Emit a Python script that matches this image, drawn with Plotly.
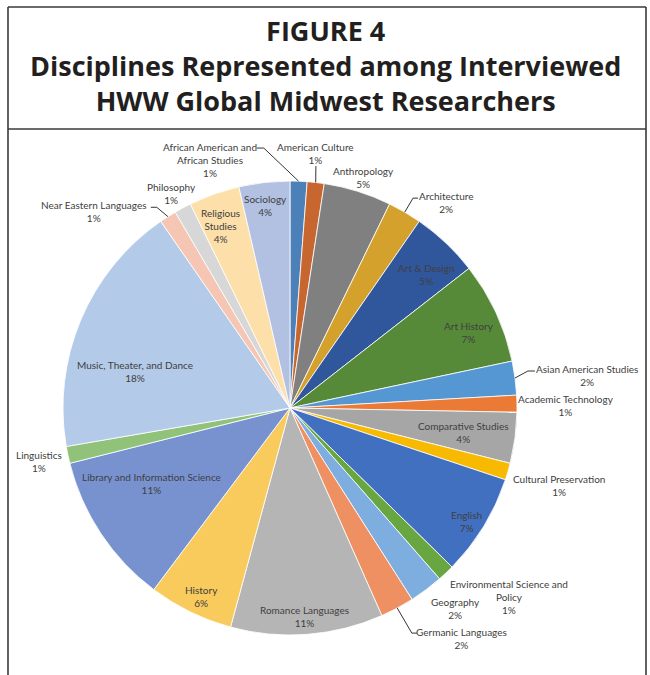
import math
import plotly.graph_objects as go

# Disciplines (clockwise from 12 o'clock) and number of researchers in each
disciplines = [
    "African American and African Studies", "American Culture", "Anthropology",
    "Architecture", "Art & Design", "Art History", "Asian American Studies",
    "Academic Technology", "Comparative Studies", "Cultural Preservation",
    "English", "Environmental Science and Policy", "Geography",
    "Germanic Languages", "Romance Languages", "History",
    "Library and Information Science", "Linguistics", "Music, Theater, and Dance",
    "Near Eastern Languages", "Philosophy", "Religious Studies", "Sociology",
]
researchers = [1, 1, 4, 2, 4, 6, 2, 1, 3, 1, 6, 1, 2, 2, 9, 5, 9, 1, 15, 1, 1, 3, 3]

slice_colors = [
    "#4C80B8", "#C8662F", "#808080", "#D4A12C", "#30569C", "#568A38",
    "#5597D2", "#EA7A35", "#A6A6A6", "#F7BA00", "#4170C0", "#67A640",
    "#7DAEDF", "#EF9062", "#B5B5B5", "#F9CA5C", "#7892D0", "#90C27A",
    "#B3CAE8", "#F6C6B4", "#D7D7D7", "#FDDFAA", "#B2C0E2",
]

# Wrapped display names for the data labels
wrapped = {
    "African American and African Studies": "African American and<br>African Studies",
    "Religious Studies": "Religious<br>Studies",
    "Environmental Science and Policy": "Environmental Science and<br>Policy",
}

# Label placement: radius as a fraction of the pie radius, angle offset (deg) from slice middle
label_radius = [1.148, 1.127, 1.067, 1.138, 0.843, 0.856, 1.316, 1.216, 0.774, 1.233,
                0.927, 1.274, 1.144, 1.267, 0.923, 0.920, 0.694, 1.131, 0.702, 1.224,
                1.080, 0.859, 0.898]
label_shift = [-20.1, -0.7, 0.2, 6.8, 2.3, 2.1, 1.25, 0.6, 0.4, -0.2,
               1.35, -5.8, -2.6, -8.5, 0.24, -0.8, 4.8, -0.16, -9.4, -12.4,
               -0.6, -1.5, -0.3]

# Leader lines: (slice index, first point and elbow point as px offsets from label centre)
leaders = [
    (0, (47, -12), (54, -12)),
    (1, (0, 12.5), (0, 13)),
    (3, (-28, -4), (-33, -4)),
    (6, (-52, -4), (-59, -4)),
    (13, (-45, -5.5), (-50, -5.5)),
    (19, (57, -4), (63, -4)),
]

W, H = 650, 675
CX, CY, R = 290, 408, 227


def px(x, y):
    return x / W, 1 - y / H


total = sum(researchers)
mids = []
acc = 0.0
for v in researchers:
    a = 360.0 * v / total
    mids.append(acc + a / 2)
    acc += a

fig = go.Figure(go.Pie(
    labels=disciplines,
    values=researchers,
    sort=False,
    direction="clockwise",
    rotation=0,
    textinfo="none",
    hoverinfo="label+percent",
    marker=dict(colors=slice_colors, line=dict(color="white", width=0.8)),
    domain=dict(x=[(CX - R) / W, (CX + R) / W], y=[1 - (CY + R) / H, 1 - (CY - R) / H]),
    showlegend=False,
))

annotations = []
label_centres = []
for i, name in enumerate(disciplines):
    ang = math.radians(mids[i] + label_shift[i])
    lx = CX + label_radius[i] * R * math.sin(ang)
    ly = CY - label_radius[i] * R * math.cos(ang)
    label_centres.append((lx, ly))
    pct = 100.0 * researchers[i] / total
    text = f"{wrapped.get(name, name)}<br>{pct:.0f}%"
    x, y = px(lx, ly)
    annotations.append(dict(
        x=x, y=y, xref="paper", yref="paper", text=text, showarrow=False,
        xanchor="center", yanchor="middle", align="center",
        font=dict(family="Lato", size=10, color="#404040"),
    ))

shapes = []
for idx, p1, p2 in leaders:
    lx, ly = label_centres[idx]
    a = math.radians(mids[idx])
    ex, ey = CX + R * math.sin(a), CY - R * math.cos(a)
    pts = [(lx + p1[0], ly + p1[1]), (lx + p2[0], ly + p2[1]), (ex, ey)]
    path = "M " + " L ".join(f"{px(x, y)[0]:.5f},{px(x, y)[1]:.5f}" for x, y in pts)
    shapes.append(dict(type="path", path=path, xref="paper", yref="paper",
                       line=dict(color="#333333", width=1)))

# Frames around the heading and the chart
frame = dict(color="#3a3a3a", width=1.6)
for x0, y0, x1, y1 in [(8, 7, 646, 7), (8, 7, 8, 675), (646, 7, 646, 675), (8, 129, 646, 129)]:
    a0, b0 = px(x0, y0)
    a1, b1 = px(x1, y1)
    shapes.append(dict(type="line", x0=a0, y0=b0, x1=a1, y1=b1, xref="paper", yref="paper", line=frame))

heading = ["FIGURE 4", "Disciplines Represented among Interviewed", "HWW Global Midwest Researchers"]
annotations.append(dict(
    x=0.5, y=px(0, 65)[1], xref="paper", yref="paper",
    text="<br>".join(f"<b>{t}</b>" for t in heading),
    showarrow=False, xanchor="center", yanchor="middle", align="center",
    font=dict(family="Open Sans", size=27, color="#231f20"),
))

fig.update_layout(
    width=W, height=H,
    margin=dict(l=0, r=0, t=0, b=0),
    paper_bgcolor="white",
    plot_bgcolor="white",
    annotations=annotations,
    shapes=shapes,
)

fig.write_html("out.html")
